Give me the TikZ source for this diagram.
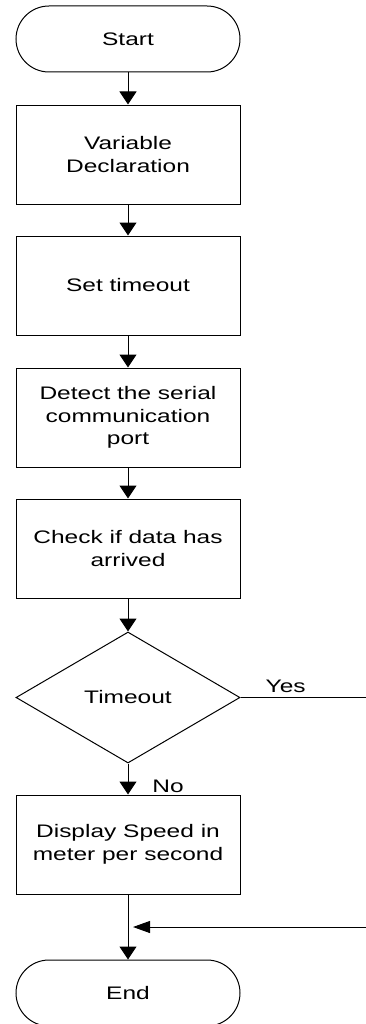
\documentclass[tikz,border=0pt]{standalone}
\usepackage{fontspec}
\setmainfont{Liberation Sans}[FakeStretch=1.35]
\usetikzlibrary{shapes.geometric,shapes.misc,arrows.meta}

\begin{document}
\begin{tikzpicture}[
    x=0.75pt, y=-0.75pt,
    every node/.style={font=\fontsize{13.6pt}{16.8pt}\selectfont},
    line/.style={line width=0.75pt, draw=black},
    box/.style={line, rectangle, minimum width=168pt, minimum height=74.25pt,
                inner sep=0pt, align=center},
    term/.style={line, rounded rectangle, minimum width=168pt,
                 minimum height=49.5pt, inner sep=0pt},
    decide/.style={line, diamond, minimum width=168pt, minimum height=98.25pt,
                   inner sep=0pt},
    arrv/.style={line, -{Triangle[length=9.75pt, width=12.75pt]}},
    arrh/.style={line, -{Triangle[length=12.75pt, width=9pt]}},
    lbl/.style={inner sep=0pt}
  ]
  \useasboundingbox (0,0) rectangle (366,1024);

  % process steps
  \node[term]   (start)   at (128,39)    {Start};
  \node[box]    (decl)    at (128,154.5) {Variable\\Declaration};
  \node[box]    (settime) at (128,285.5) {Set timeout};
  \node[box]    (detect)  at (128,417.5) {Detect the serial\\communication\\port};
  \node[box]    (check)   at (128,548.5) {Check if data has\\arrived};
  \node[decide] (tmo)     at (128,697.5) {Timeout};
  \node[box]    (show)    at (128,844.5) {Display Speed in\\meter per second};
  \node[term]   (finish)  at (128,993)   {End};

  % free ends of the timeout branch
  \coordinate (yesout) at (366,697.5);
  \coordinate (backin) at (366,927);
  \coordinate (merge)  at (133,927);

  % main flow
  \draw[arrv] (start.south)   -- (decl.north);
  \draw[arrv] (decl.south)    -- (settime.north);
  \draw[arrv] (settime.south) -- (detect.north);
  \draw[arrv] (detect.south)  -- (check.north);
  \draw[arrv] (check.south)   -- (tmo.north);
  \draw[arrv] (tmo.south)     -- (show.north);
  \draw[arrv] (show.south)    -- (finish.north);

  % timeout branch
  \draw[line] (tmo.east) -- (yesout)
    node[pos=0.36, above, inner sep=3pt] (yeslbl) {Yes};
  \draw[arrh] (backin) -- (merge);

  \node[lbl] (nolbl) at (168,786) {No};
\end{tikzpicture}
\end{document}
